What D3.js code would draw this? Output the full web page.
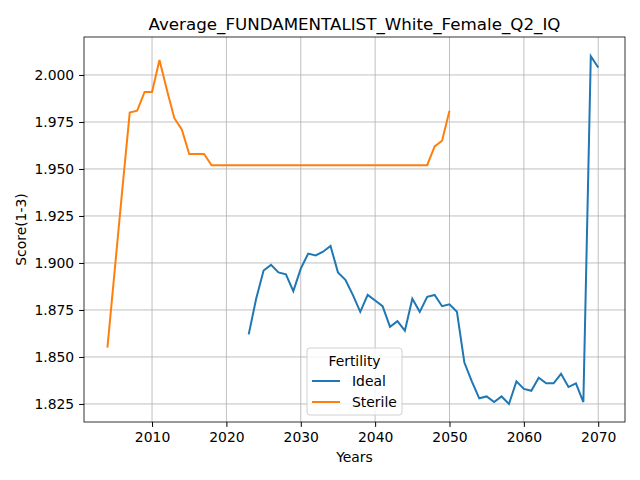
<!DOCTYPE html>
<html><head><meta charset="utf-8">
<script src="https://cdn.jsdelivr.net/npm/d3@7"></script>
<style>body{margin:0;background:#fff;font-family:"DejaVu Sans",sans-serif;}</style>
</head><body><svg width="640" height="480"></svg>
<script>
var idealYears = d3.range(2023, 2071);
var idealValues = [1.862,1.881,1.896,1.899,1.895,1.894,1.885,1.897,1.905,1.904,1.906,1.909,
  1.895,1.891,1.883,1.874,1.883,1.880,1.877,1.866,1.869,1.864,1.881,1.874,1.882,1.883,1.877,
  1.878,1.874,1.847,1.837,1.828,1.829,1.826,1.829,1.825,1.837,1.833,1.832,1.839,1.836,1.836,
  1.841,1.834,1.836,1.826,2.010,2.004];
var sterileYears = d3.range(2004, 2051);
var sterileValues = [1.855,1.897,1.939,1.980,1.981,1.991,1.991,2.008,1.992,1.977,1.971,1.958,1.958,1.958,
  1.952,1.952,1.952,1.952,1.952,1.952,1.952,1.952,1.952,1.952,1.952,1.952,1.952,1.952,1.952,1.952,
  1.952,1.952,1.952,1.952,1.952,1.952,1.952,1.952,1.952,1.952,1.952,1.952,1.952,1.952,1.962,1.965,1.981];
var xTicks = [2010,2020,2030,2040,2050,2060,2070];
var yTicks = [1.825,1.850,1.875,1.900,1.925,1.950,1.975,2.000];

var L = 84, R = 625, T = 37, B = 422;
var svg = d3.select('svg');
var x = d3.scaleLinear().domain([2000.85, 2073.6]).range([L, R]);
var y = d3.scaleLinear().domain([1.8154, 2.0202]).range([B, T]);

var grid = svg.append('g').attr('stroke', '#b0b0b0').attr('stroke-width', 0.8);
xTicks.forEach(function(t){ grid.append('line').attr('x1', x(t)).attr('x2', x(t)).attr('y1', T).attr('y2', B); });
yTicks.forEach(function(t){ grid.append('line').attr('x1', L).attr('x2', R).attr('y1', y(t)).attr('y2', y(t)); });

var xa = svg.append('g').attr('transform', 'translate(0,' + B + ')')
  .call(d3.axisBottom(x).tickValues(xTicks).tickFormat(d3.format('d')).tickSize(4.9).tickPadding(4.9));
var ya = svg.append('g').attr('transform', 'translate(' + L + ',0)')
  .call(d3.axisLeft(y).tickValues(yTicks).tickFormat(d3.format('.3f')).tickSize(4.9).tickPadding(4.9));
[xa, ya].forEach(function(a){
  a.selectAll('text').attr('font-size', 13.9).attr('fill', '#000').attr('font-family', 'DejaVu Sans');
  a.select('.domain').remove();
});
svg.append('rect').attr('x', L).attr('y', T).attr('width', R - L).attr('height', B - T)
  .attr('fill', 'none').attr('stroke', '#000').attr('stroke-width', 0.8);

var line = d3.line().x(function(d){ return x(d[0]); }).y(function(d){ return y(d[1]); });
svg.append('path').datum(d3.zip(idealYears, idealValues)).attr('d', line)
  .attr('fill', 'none').attr('stroke', '#1f77b4').attr('stroke-width', 2);
svg.append('path').datum(d3.zip(sterileYears, sterileValues)).attr('d', line)
  .attr('fill', 'none').attr('stroke', '#ff7f0e').attr('stroke-width', 2);

svg.append('text').attr('x', (L + R) / 2).attr('y', 30).attr('text-anchor', 'middle')
  .attr('font-size', 16.7).text('Average_FUNDAMENTALIST_White_Female_Q2_IQ');
svg.append('text').attr('x', (L + R) / 2).attr('y', 462).attr('text-anchor', 'middle')
  .attr('font-size', 13.9).text('Years');
svg.append('text').attr('transform', 'translate(26,' + ((T + B) / 2) + ') rotate(-90)')
  .attr('text-anchor', 'middle').attr('font-size', 13.9).text('Score(1-3)');

var lg = svg.append('g').attr('transform', 'translate(307,348)');
lg.append('rect').attr('width', 95).attr('height', 67).attr('rx', 3)
  .attr('fill', '#fff').attr('fill-opacity', 0.8).attr('stroke', '#d0d0d0');
lg.append('text').attr('x', 47.5).attr('y', 18).attr('text-anchor', 'middle').attr('font-size', 13.9).text('Fertility');
[['Ideal', '#1f77b4'], ['Sterile', '#ff7f0e']].forEach(function(s, i){
  var yy = 33 + i * 21;
  lg.append('line').attr('x1', 5).attr('x2', 33).attr('y1', yy).attr('y2', yy).attr('stroke', s[1]).attr('stroke-width', 2);
  lg.append('text').attr('x', 45).attr('y', yy + 5).attr('font-size', 13.9).text(s[0]);
});
</script></body></html>
